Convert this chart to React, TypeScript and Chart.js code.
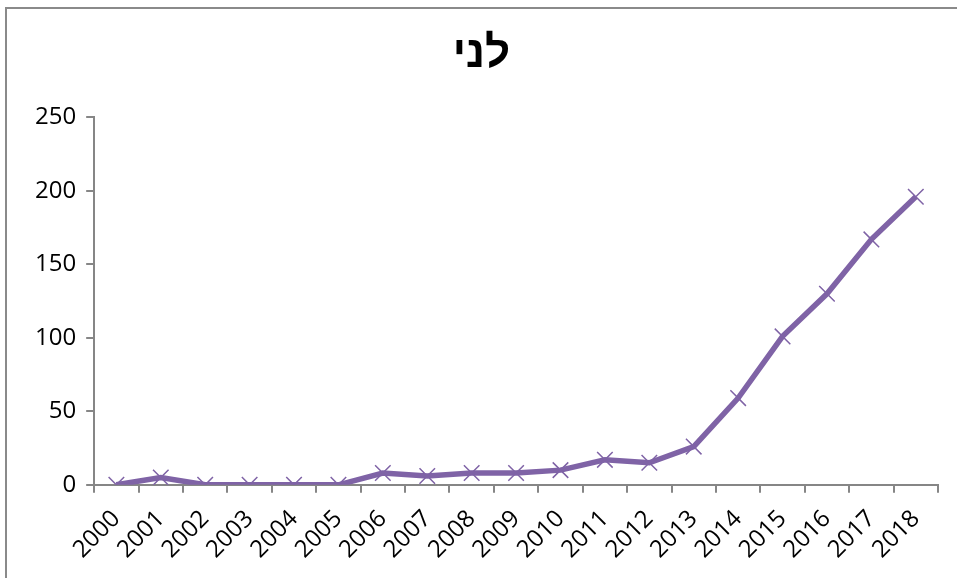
import React, { useEffect, useRef } from "react";
import { Chart, registerables } from "chart.js";

Chart.register(...registerables);

const title = "לני";
const years = ["2000","2001","2002","2003","2004","2005","2006","2007","2008","2009","2010","2011","2012","2013","2014","2015","2016","2017","2018"];
const values = [0, 5, 0, 0, 0, 0, 8, 6, 8, 8, 10, 17, 15, 26, 59, 101, 130, 167, 196];
const yTicks = [0, 50, 100, 150, 200, 250];

const lineColor = "#7F63A6";
const axisColor = "#868686";

export default function App() {
  const ref = useRef<HTMLCanvasElement | null>(null);
  useEffect(() => {
    if (!ref.current) return;
    const chart = new Chart(ref.current, {
      type: "line",
      data: {
        labels: years,
        datasets: [
          {
            data: values,
            borderColor: lineColor,
            backgroundColor: lineColor,
            borderWidth: 5.5,
            pointStyle: "crossRot",
            pointRadius: 11,
            pointBorderWidth: 1.5,
            pointBorderColor: lineColor,
            tension: 0,
          },
        ],
      },
      options: {
        animation: false,
        responsive: false,
        layout: { padding: { left: 25, right: 19, top: 31, bottom: 2 } },
        plugins: {
          legend: { display: false },
          tooltip: { enabled: false },
          title: {
            display: true,
            text: title,
            color: "#000",
            font: { family: "Liberation Sans", size: 44, weight: "bold", lineHeight: 1.1 },
            padding: { top: 0, bottom: 38 },
          },
        },
        scales: {
          x: {
            type: "category",
            offset: true,
            grid: { display: true, offset: true, drawOnChartArea: false, color: axisColor, tickLength: 8, lineWidth: 2 },
            border: { color: axisColor, width: 2 },
            ticks: {
              color: "#000",
              font: { family: "Open Sans", size: 24 },
              minRotation: 45,
              maxRotation: 45,
              padding: 12,
              autoSkip: false,
            },
          },
          y: {
            min: 0,
            max: 250,
            afterBuildTicks: (axis: any) => {
              axis.ticks = yTicks.map((v) => ({ value: v }));
            },
            grid: { display: true, drawOnChartArea: false, color: axisColor, tickLength: 8, lineWidth: 2 },
            border: { color: axisColor, width: 2 },
            ticks: {
              color: "#000",
              font: { family: "Open Sans", size: 24 },
              padding: 10,
            },
          },
        },
      },
    });
    return () => chart.destroy();
  }, []);
  return (
    <div style={{ position: "fixed", left: 0, top: 0, width: 957, height: 578, background: "#fff" }}>
      <canvas ref={ref} width={957} height={578} style={{ position: "absolute", left: 0, top: 0 }} />
      <div
        style={{
          position: "absolute",
          left: 5,
          top: 7,
          width: 970,
          height: 600,
          border: "2px solid #8a8a8a",
          boxSizing: "border-box",
          pointerEvents: "none",
        }}
      />
    </div>
  );
}
